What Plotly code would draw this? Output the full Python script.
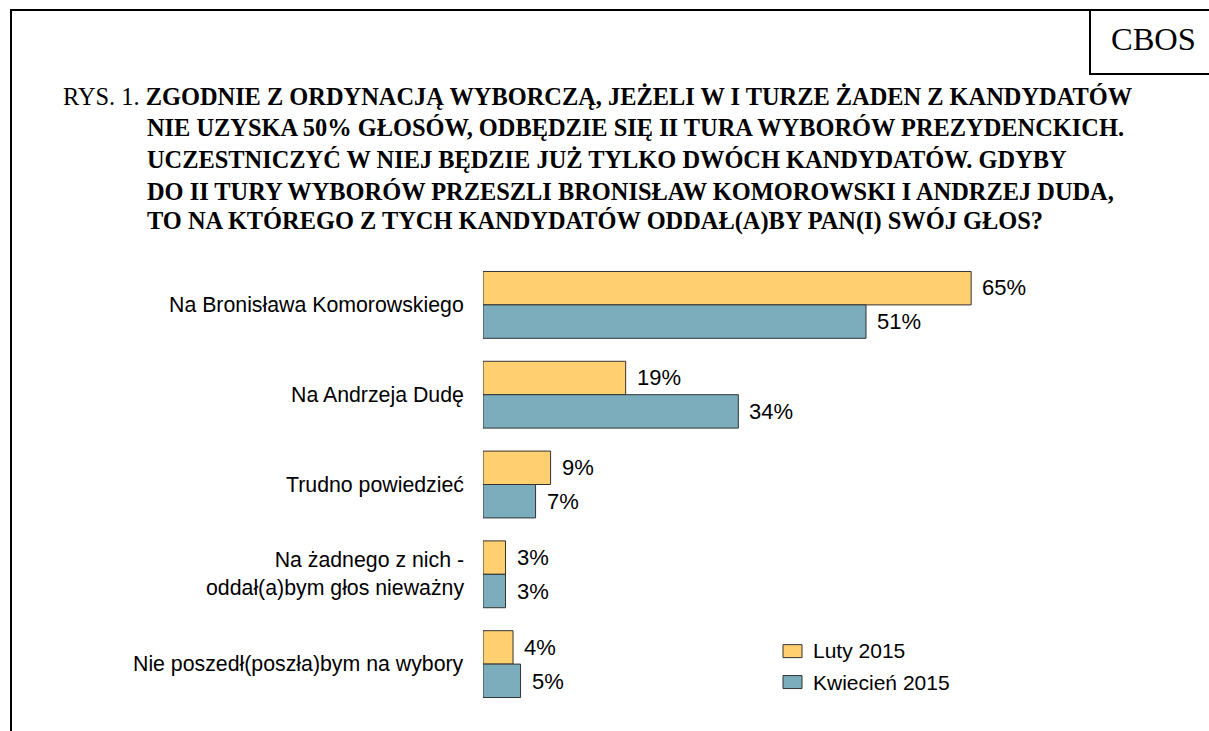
import plotly.graph_objects as go

categories = [
    "Na Bronisława Komorowskiego",
    "Na Andrzeja Dudę",
    "Trudno powiedzieć",
    "Na żadnego z nich -<br>oddał(a)bym głos nieważny",
    "Nie poszedł(poszła)bym na wybory",
]
series_names = ["Luty 2015", "Kwiecień 2015"]
luty = [65, 19, 9, 3, 4]
kwiecien = [51, 34, 7, 3, 5]
title_lines = [
    "RYS. 1. <b>ZGODNIE Z ORDYNACJĄ WYBORCZĄ, JEŻELI W I TURZE ŻADEN Z KANDYDATÓW</b>",
    "<b>NIE UZYSKA 50% GŁOSÓW, ODBĘDZIE SIĘ II TURA WYBORÓW PREZYDENCKICH.</b>",
    "<b>UCZESTNICZYĆ W NIEJ BĘDZIE JUŻ TYLKO DWÓCH KANDYDATÓW. GDYBY</b>",
    "<b>DO II TURY WYBORÓW PRZESZLI BRONISŁAW KOMOROWSKI I ANDRZEJ DUDA,</b>",
    "<b>TO NA KTÓREGO Z TYCH KANDYDATÓW ODDAŁ(A)BY PAN(I) SWÓJ GŁOS?</b>",
]
brand = "CBOS"

W, H = 1209, 731
ML, MR, MT, MB = 483, 9, 259.5, 21.5
PW = W - ML - MR
PH = H - MT - MB
XMAX = PW / 7.51

YELLOW = "#FFCF70"
BLUE = "#7BADBC"
SANS = "Liberation Sans, Arial, sans-serif"
SERIF = "Liberation Serif, Times New Roman, serif"


def px(x):
    return (x - ML) / PW


def py(y):
    return (H - MB - y) / PH


fig = go.Figure()
for name, vals, col in [(series_names[0], luty, YELLOW), (series_names[1], kwiecien, BLUE)]:
    fig.add_trace(go.Bar(
        x=vals, y=categories, orientation="h", name=name,
        marker=dict(color=col, line=dict(color="#333333", width=1)),
        showlegend=False, hoverinfo="skip",
    ))

annotations = []
# value labels
for vals, shift in [(luty, 17), (kwiecien, -17)]:
    for cat, v in zip(categories, vals):
        annotations.append(dict(
            x=v, y=cat, xref="x", yref="y", text=f"{v}%", showarrow=False,
            xanchor="left", yanchor="middle", xshift=9, yshift=shift,
            font=dict(family=SANS, size=22, color="#000000"),
        ))
# category labels
for cat in categories:
    annotations.append(dict(
        x=px(466), y=cat, xref="paper", yref="y", text=cat, showarrow=False,
        xanchor="right", yanchor="middle", align="right",
        font=dict(family=SANS, size=21.3, color="#000000"),
    ))
# title
title_y = [96, 127, 159, 190.5, 220.5]
for i, (line, yy) in enumerate(zip(title_lines, title_y)):
    annotations.append(dict(
        x=px(61 if i == 0 else 145), y=py(yy), xref="paper", yref="paper",
        text=line, showarrow=False, xanchor="left", yanchor="middle",
        font=dict(family=SERIF, size=24.4, color="#000000"),
    ))
annotations.append(dict(
    x=px(1153), y=py(38), xref="paper", yref="paper", text=brand,
    showarrow=False, xanchor="center", yanchor="middle",
    font=dict(family=SERIF, size=32.5, color="#000000"),
))
# legend texts
for name, yy in zip(series_names, [651, 682.5]):
    annotations.append(dict(
        x=px(811), y=py(yy), xref="paper", yref="paper", text=name,
        showarrow=False, xanchor="left", yanchor="middle",
        font=dict(family=SANS, size=21, color="#000000"),
    ))

shapes = []
for col, y0, y1 in [(YELLOW, 645, 658), (BLUE, 676, 689)]:
    shapes.append(dict(type="rect", xref="paper", yref="paper",
                       x0=px(783), x1=px(802), y0=py(y1), y1=py(y0),
                       fillcolor=col, line=dict(color="#333333", width=1)))
frame_lines = [
    (11, 9, 11, H + 5),
    (10, 9, W + 5, 9),
    (1090, 9, 1090, 73),
    (1089, 73, W + 5, 73),
]
for x0, y0, x1, y1 in frame_lines:
    shapes.append(dict(type="line", xref="paper", yref="paper",
                       x0=px(x0), y0=py(y0), x1=px(x1), y1=py(y1),
                       line=dict(color="#000000", width=2)))

fig.update_layout(
    width=W, height=H,
    margin=dict(l=ML, r=MR, t=MT, b=MB, pad=0),
    paper_bgcolor="white", plot_bgcolor="white",
    barmode="group", bargap=0.2556, bargroupgap=0,
    xaxis=dict(range=[0, XMAX], showgrid=False, zeroline=False,
               showticklabels=False, showline=False, fixedrange=True),
    yaxis=dict(range=[4.5, -0.5], showgrid=False, zeroline=False,
               showticklabels=False, showline=False, fixedrange=True),
    annotations=annotations, shapes=shapes, showlegend=False,
)

fig.write_html("out.html", post_script="document.body.style.margin='0';",
               config={"displayModeBar": False})
